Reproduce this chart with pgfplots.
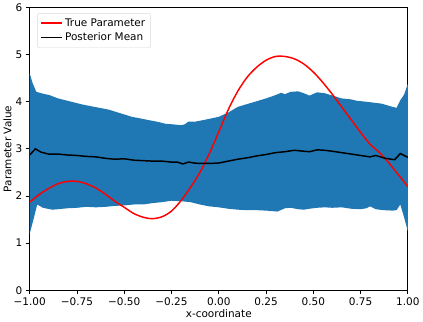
\documentclass[border=0pt]{standalone}
\usepackage{fontspec}
\setmainfont{DejaVu Sans}
\usepackage{pgfplots}
\pgfplotsset{compat=1.18}
\usepgfplotslibrary{fillbetween}
\definecolor{bandblue}{HTML}{1F77B4}

\begin{document}
\begin{tikzpicture}
\begin{axis}[
  scale only axis,
  width=361pt, height=270pt,
  xmin=-1, xmax=1, ymin=0, ymax=6,
  xtick={-1,-0.75,-0.5,-0.25,0,0.25,0.5,0.75,1},
  xticklabels={−1.00,−0.75,−0.50,−0.25,0.00,0.25,0.50,0.75,1.00},
  ytick={0,1,2,3,4,5,6},
  tick align=outside, xtick pos=bottom, ytick pos=left,
  major tick length=3.5pt,
  tick style={black, line width=0.8pt},
  axis line style={line width=0.8pt},
  tick label style={font=\fontsize{10}{12}\selectfont},
  label style={font=\fontsize{10}{12}\selectfont},
  /pgf/number format/assume math mode=true,
  xlabel={x-coordinate}, ylabel={Parameter Value},
  xlabel style={yshift=3pt}, ylabel style={yshift=-3pt},
  legend style={at={(0.02,0.98)}, anchor=north west, draw=gray!30,
    rounded corners=2pt, font=\fontsize{10}{12}\selectfont,
    row sep=1pt, inner sep=3pt},
  legend cell align=left,
  legend image code/.code={\draw[#1] (0pt,0pt) -- (20pt,0pt);},
]
% credible band, upper edge
\addplot[name path=up, draw=none, forget plot] coordinates {
  (-1.00,4.60) (-0.985,4.40) (-0.965,4.21) (-0.93,4.17) (-0.895,4.14) (-0.85,4.07)
  (-0.81,4.03) (-0.76,3.98) (-0.72,3.94) (-0.67,3.90) (-0.63,3.87) (-0.58,3.83)
  (-0.54,3.78) (-0.50,3.73) (-0.46,3.68) (-0.42,3.65) (-0.37,3.61) (-0.32,3.57)
  (-0.28,3.53) (-0.24,3.52) (-0.20,3.50) (-0.18,3.52) (-0.16,3.58) (-0.12,3.58)
  (-0.07,3.62) (0.00,3.68) (0.05,3.77) (0.10,3.89) (0.15,3.95) (0.20,4.01)
  (0.25,4.07) (0.30,4.14) (0.33,4.19) (0.35,4.16) (0.38,4.21) (0.42,4.22)
  (0.45,4.18) (0.48,4.13) (0.52,4.20) (0.56,4.18) (0.61,4.12) (0.65,4.07)
  (0.70,4.05) (0.73,4.02) (0.78,4.00) (0.82,3.98) (0.86,3.96) (0.92,3.89)
  (0.94,3.87) (0.96,4.03) (0.98,4.15) (1.00,4.38)};
% credible band, lower edge
\addplot[name path=lo, draw=none, forget plot] coordinates {
  (-1.00,1.20) (-0.98,1.50) (-0.96,1.82) (-0.93,1.75) (-0.88,1.71) (-0.85,1.72)
  (-0.80,1.74) (-0.75,1.75) (-0.70,1.77) (-0.65,1.76) (-0.60,1.77) (-0.55,1.79)
  (-0.50,1.80) (-0.45,1.82) (-0.40,1.82) (-0.35,1.85) (-0.30,1.87) (-0.25,1.90)
  (-0.20,1.89) (-0.15,1.87) (-0.10,1.82) (-0.05,1.78) (0.00,1.76) (0.05,1.73)
  (0.10,1.71) (0.15,1.70) (0.20,1.70) (0.25,1.69) (0.31,1.67) (0.35,1.74)
  (0.38,1.75) (0.42,1.72) (0.45,1.71) (0.48,1.73) (0.52,1.75) (0.56,1.76)
  (0.60,1.75) (0.65,1.76) (0.70,1.73) (0.75,1.72) (0.78,1.74) (0.80,1.78)
  (0.83,1.72) (0.87,1.70) (0.92,1.69) (0.94,1.70) (0.96,1.82) (0.98,1.55)
  (1.00,1.25)};
\addplot[bandblue, forget plot] fill between[of=up and lo];
% true parameter
\addplot[red, line width=1.4pt, smooth, forget plot] coordinates {
  (-1.00,1.87) (-0.95,2.03) (-0.90,2.16) (-0.85,2.26) (-0.80,2.31) (-0.75,2.31)
  (-0.70,2.26) (-0.65,2.17) (-0.60,2.04) (-0.55,1.89) (-0.50,1.76) (-0.45,1.63)
  (-0.40,1.55) (-0.35,1.52) (-0.30,1.56) (-0.25,1.68) (-0.20,1.90) (-0.15,2.18)
  (-0.10,2.50) (-0.05,2.90) (0.00,3.36) (0.05,3.83) (0.10,4.22) (0.15,4.52)
  (0.20,4.73) (0.25,4.88) (0.30,4.96) (0.35,4.96) (0.40,4.91) (0.45,4.80)
  (0.50,4.63) (0.55,4.41) (0.60,4.16) (0.65,3.89) (0.70,3.62) (0.75,3.35)
  (0.80,3.10) (0.85,2.92) (0.90,2.70) (0.95,2.45) (1.00,2.20)};
% posterior mean
\addplot[black, line width=1.4pt, forget plot] coordinates {
  (-1.00,2.87) (-0.97,3.00) (-0.94,2.93) (-0.90,2.89) (-0.85,2.89) (-0.80,2.87)
  (-0.75,2.86) (-0.70,2.84) (-0.65,2.83) (-0.60,2.80) (-0.55,2.78) (-0.50,2.79)
  (-0.45,2.76) (-0.40,2.75) (-0.35,2.74) (-0.30,2.74) (-0.25,2.72) (-0.22,2.72)
  (-0.19,2.68) (-0.16,2.72) (-0.13,2.70) (-0.10,2.69) (-0.05,2.69) (0.00,2.70)
  (0.05,2.74) (0.10,2.78) (0.15,2.81) (0.20,2.85) (0.25,2.88) (0.30,2.92)
  (0.35,2.94) (0.40,2.97) (0.45,2.95) (0.48,2.94) (0.52,2.98) (0.56,2.97)
  (0.60,2.95) (0.65,2.92) (0.70,2.89) (0.75,2.86) (0.80,2.83) (0.83,2.86)
  (0.88,2.80) (0.93,2.77) (0.96,2.90) (1.00,2.82)};
\addlegendimage{red, line width=1.4pt}
\addlegendentry{True Parameter}
\addlegendimage{black, line width=1.4pt}
\addlegendentry{Posterior Mean}
\end{axis}
\end{tikzpicture}
\end{document}
